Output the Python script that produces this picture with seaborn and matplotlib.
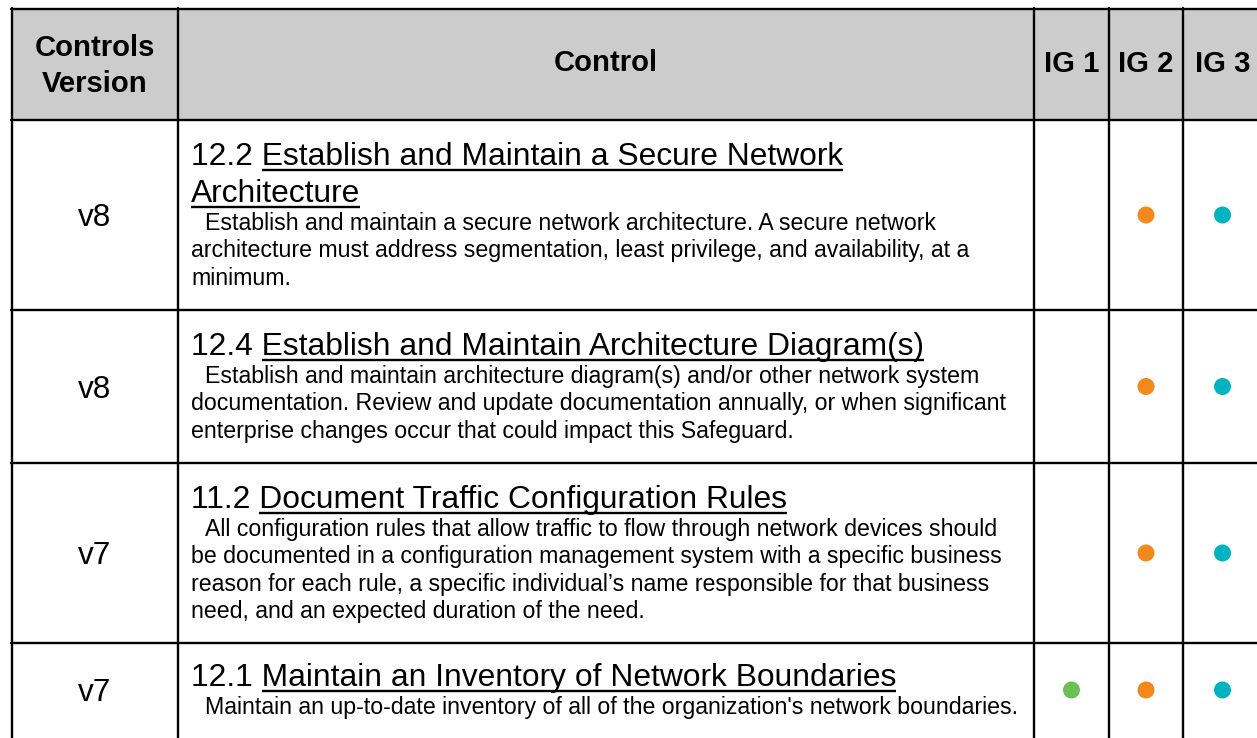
import matplotlib
matplotlib.use("Agg")
import matplotlib.pyplot as plt
from matplotlib.patches import Rectangle
import seaborn as sns
import pandas as pd

# ---------------- data ----------------
header_version = ["Controls", "Version"]
header_control = "Control"
ig_labels = ["IG 1", "IG 2", "IG 3"]

versions = ["v8", "v8", "v7", "v7"]
control_ids = ["12.2", "12.4", "11.2", "12.1"]
control_titles = [
    "Establish and Maintain a Secure Network\nArchitecture",
    "Establish and Maintain Architecture Diagram(s)",
    "Document Traffic Configuration Rules",
    "Maintain an Inventory of Network Boundaries",
]
descriptions = [
    "Establish and maintain a secure network architecture. A secure network\n"
    "architecture must address segmentation, least privilege, and availability, at a\n"
    "minimum.",
    "Establish and maintain architecture diagram(s) and/or other network system\n"
    "documentation. Review and update documentation annually, or when significant\n"
    "enterprise changes occur that could impact this Safeguard.",
    "All configuration rules that allow traffic to flow through network devices should\n"
    "be documented in a configuration management system with a specific business\n"
    "reason for each rule, a specific individual\u2019s name responsible for that business\n"
    "need, and an expected duration of the need.",
    "Maintain an up-to-date inventory of all of the organization's network boundaries.",
]
ig1 = [False, False, False, True]
ig2 = [True, True, True, True]
ig3 = [True, True, True, True]
ig_colors = {"IG 1": "#6cbf52", "IG 2": "#f3891a", "IG 3": "#00b3c1"}

# ---------------- style / layout ----------------
sns.set_theme(style="white")
plt.rcParams["font.family"] = ["Liberation Sans", "DejaVu Sans"]

W, H = 1257, 738
fig = plt.figure(figsize=(W / 100, H / 100), dpi=100)
ax = fig.add_axes([0, 0, 1, 1])
ax.set_xlim(0, W)
ax.set_ylim(H, 0)
ax.axis("off")

col_edges = [12, 178, 1034, 1109, 1183, 1262]
row_edges = [9, 120, 310, 463, 643, 741]
PX = 72 / 100  # points per pixel
INK = "#000000"


def pt(px):
    return px * PX


header_px = 29.3
title_px = 31.8
desc_px = 23.1
ver_px = 31.5


def put_line(x, yc, s, px, **kw):
    # place a text line so that its cap-height is centred on yc
    return ax.text(x, yc + 0.36 * px, s, fontsize=pt(px), va="baseline", **kw)


# header background
ax.add_patch(Rectangle((col_edges[0], row_edges[0]), col_edges[-1] - col_edges[0],
                       row_edges[1] - row_edges[0], facecolor="#cccccc",
                       edgecolor="none", zorder=0))

# header texts
hc = (row_edges[0] + row_edges[1]) / 2
xc0 = (col_edges[0] + col_edges[1]) / 2
put_line(xc0, hc - 19, header_version[0], header_px, ha="center", fontweight="bold", color=INK)
put_line(xc0, hc + 17, header_version[1], header_px, ha="center", fontweight="bold", color=INK)
put_line((col_edges[1] + col_edges[2]) / 2, hc - 4, header_control, header_px, ha="center",
         fontweight="bold", color=INK)
for k, lab in enumerate(ig_labels):
    put_line((col_edges[2 + k] + col_edges[3 + k]) / 2, hc - 3, lab, header_px, ha="center",
             fontweight="bold", color=INK)

# body rows
text_x = col_edges[1] + 13
indent = 14
underline_jobs = []
row_centres = []
for i in range(len(versions)):
    top, bot = row_edges[i + 1], row_edges[i + 2]
    if i == len(versions) - 1:
        bot = 737
    rc = (top + bot) / 2
    row_centres.append(rc)
    put_line(xc0, rc, versions[i], ver_px, ha="center", color=INK)

    t_lines = control_titles[i].split("\n")
    d_lines = descriptions[i].split("\n")
    gaps = [37] * (len(t_lines) - 1) + [31] + [27.5] * (len(d_lines) - 1)
    span = sum(gaps)
    y = rc - span / 2
    ys = [y]
    for g in gaps:
        y += g
        ys.append(y)
    for j, tl in enumerate(t_lines):
        s = (control_ids[i] + " " + tl) if j == 0 else tl
        t = put_line(text_x, ys[j], s, title_px, ha="left", color=INK)
        underline_jobs.append((t, tl, ys[j] + 0.36 * title_px))
    for j, dl in enumerate(d_lines):
        x = text_x + (indent if j == 0 else 0)
        put_line(x, ys[len(t_lines) + j], dl, desc_px, ha="left", color=INK)

# underlines of title hyperlinks (measured from the rendered text)
fig.canvas.draw()
renderer = fig.canvas.get_renderer()
inv = ax.transData.inverted()
for t, part, base in underline_jobs:
    bb = t.get_window_extent(renderer)
    tmp = ax.text(0, 0, part, fontsize=pt(title_px))
    wpart = tmp.get_window_extent(renderer).width
    tmp.remove()
    x_end = inv.transform((bb.x1, bb.y0))[0]
    x_start = inv.transform((bb.x1 - wpart, bb.y0))[0]
    ax.plot([x_start, x_end], [base + 5, base + 5], color=INK, lw=1.7,
            solid_capstyle="butt", zorder=2)

# IG dots via seaborn
recs = []
for i in range(len(versions)):
    for k, flags in enumerate([ig1, ig2, ig3]):
        if flags[i]:
            recs.append({"x": (col_edges[2 + k] + col_edges[3 + k]) / 2,
                         "y": row_centres[i], "ig": ig_labels[k]})
df = pd.DataFrame(recs)
sns.scatterplot(data=df, x="x", y="y", hue="ig", palette=ig_colors, s=150,
                linewidth=0, legend=False, ax=ax, zorder=3)

# grid lines
lw = 1.7
for y in row_edges:
    ax.plot([col_edges[0] - 1, col_edges[-1]], [y, y], color="black", lw=lw, zorder=2)
for x in col_edges:
    ax.plot([x, x], [row_edges[0] - 1, row_edges[-1]], color="black", lw=lw, zorder=2)

ax.set_xlim(0, W)
ax.set_ylim(H, 0)
ax.axis("off")
fig.savefig("out.png", dpi=100, facecolor="white")
